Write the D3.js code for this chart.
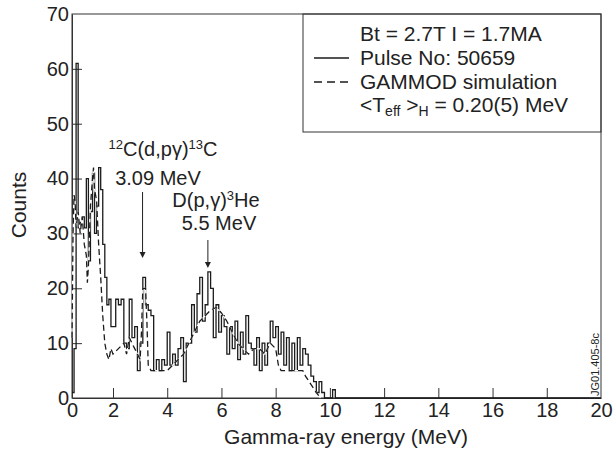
<!DOCTYPE html>
<html>
<head>
<meta charset="utf-8">
<script src="https://cdn.jsdelivr.net/npm/d3@7"></script>
<style>
  body { margin: 0; background: #fff; }
  text { font-family: "Liberation Sans", Arial, Helvetica, sans-serif; fill: #222; }
</style>
</head>
<body>
<svg id="chart" width="613" height="450"></svg>
<script>
// Axis ticks
const xTicks = [0, 2, 4, 6, 8, 10, 12, 14, 16, 18, 20];
const yTicks = [0, 10, 20, 30, 40, 50, 60, 70];

// Measured spectrum, pulse 50659: counts per 0.1 MeV bin starting at 0 MeV
const binWidth = 0.1;
const pulseCounts = [
  1, 9, 61, 31, 32, 33, 31, 40, 25, 34,
  41, 30, 35, 42, 38, 28, 22, 17, 18, 13,
  13, 18, 17, 18, 10, 9, 18, 11, 13, 5,
  10, 22, 17, 16, 15, 5, 7, 5, 7, 6,
  12, 6, 8, 6, 9, 11, 3, 10, 10, 17,
  12, 19, 22, 14, 17, 23, 20, 11, 17, 12,
  15, 13, 8, 13, 9, 14, 7, 12, 8, 15,
  10, 9, 6, 11, 5, 10, 6, 10, 14, 11,
  13, 8, 12, 6, 11, 5, 10, 5, 11, 6,
  9, 8, 6, 4, 3, 1, 3, 1, 0, 0,
  0, 1.5, 0
];

// GAMMOD simulation curve
const simEnergy = [0.0, 0.05, 0.1, 0.15, 0.2, 0.3, 0.4, 0.5, 0.6, 0.7, 0.75, 0.8, 0.9, 1.0, 1.05, 1.1, 1.2, 1.3, 1.4, 1.5,
  1.6, 1.7, 1.8, 1.9, 2.0, 2.2, 2.4, 2.5, 2.6, 2.8, 2.9, 3.0, 3.05, 3.1, 3.2, 3.25, 3.3, 3.4, 3.6, 3.8,
  4.0, 4.2, 4.4, 4.6, 4.8, 5.0, 5.2, 5.4, 5.6, 5.8, 6.0, 6.2, 6.4, 6.6, 6.8, 7.0, 7.2, 7.4, 7.6, 7.8,
  8.0, 8.1, 8.2, 8.6, 9.0, 9.1, 9.3, 9.5, 9.65];
const simCounts = [11, 30, 37, 36, 31, 34, 30, 33, 28, 26, 21, 24, 35, 40, 42, 38, 36, 28, 22, 15,
  10, 8, 7, 9, 8, 9, 10, 8, 11, 9, 8, 7, 12, 20, 20, 14, 6, 5, 5, 5,
  5, 6, 7, 8, 10, 12, 14, 15, 16, 16.5, 15.5, 14, 12, 10, 9, 8, 9, 9, 8, 10,
  9, 6, 5, 5, 5, 4, 2.5, 1, 0];

// Legend and annotation texts
const legendLines = ["Bt = 2.7T I = 1.7MA", "Pulse No: 50659", "GAMMOD simulation"];
const peakLabels = [
  { energy: 3.09, iso1: "12", main1: "C(d,p\u03B3)", iso2: "13", main2: "C", energyText: "3.09 MeV" },
  { energy: 5.5, iso1: "", main1: "D(p,\u03B3)", iso2: "3", main2: "He", energyText: "5.5 MeV" }
];

const svg = d3.select("#chart");
const plotLeft = 72, plotRight = 601, plotTop = 14, plotBottom = 398;

// The energy axis is stretched beyond 2 MeV relative to the first segment
const x = d3.scaleLinear().domain([0, 2, 20]).range([plotLeft, 113, plotRight]);
const y = d3.scaleLinear().domain([0, 70]).range([plotBottom, plotTop]);

// Frame
svg.append("rect")
  .attr("x", plotLeft).attr("y", plotTop)
  .attr("width", plotRight - plotLeft).attr("height", plotBottom - plotTop)
  .attr("fill", "none").attr("stroke", "#333").attr("stroke-width", 1);

// Axes with inward ticks
const xAxis = svg.append("g").attr("transform", `translate(0,${plotBottom})`)
  .call(d3.axisBottom(x).tickValues(xTicks).tickSizeInner(-10).tickSizeOuter(0).tickPadding(5));
const yAxis = svg.append("g").attr("transform", `translate(${plotLeft},0)`)
  .call(d3.axisLeft(y).tickValues(yTicks).tickSizeInner(-10).tickSizeOuter(0).tickPadding(3));
[xAxis, yAxis].forEach(g => {
  g.select(".domain").attr("stroke", "#333");
  g.selectAll(".tick line").attr("stroke", "#333");
  g.selectAll(".tick text").attr("font-size", 20).attr("fill", "#222")
    .style("font-family", '"Liberation Sans", Arial, sans-serif');
});
xAxis.selectAll(".tick").filter(d => d === 0 || d === 20).select("line").remove();
yAxis.selectAll(".tick").filter(d => d === 0 || d === 70).select("line").remove();

// Axis titles
svg.append("text")
  .attr("transform", "translate(26,205) rotate(-90)")
  .attr("text-anchor", "middle").attr("font-size", 21).text("Counts");
svg.append("text")
  .attr("x", 346).attr("y", 444)
  .attr("text-anchor", "middle").attr("font-size", 21).text("Gamma-ray energy (MeV)");

// Measured histogram drawn as steps, continuing at zero to the end of the axis
const steps = pulseCounts.map((c, i) => [i * binWidth, c]);
steps.push([pulseCounts.length * binWidth, 0], [20, 0]);
const stepLine = d3.line().x(d => x(d[0])).y(d => y(d[1])).curve(d3.curveStepAfter);
svg.append("path").datum(steps)
  .attr("d", stepLine)
  .attr("fill", "none").attr("stroke", "#1b1b1b").attr("stroke-width", 1.3);

// Simulation: white under-stroke gives the dash gaps, black dashes on top
const simPts = simEnergy.map((e, i) => [e, simCounts[i]]);
const simLine = d3.line().x(d => x(d[0])).y(d => y(d[1]));
svg.append("path").datum(simPts).attr("d", simLine)
  .attr("fill", "none").attr("stroke", "#fff").attr("stroke-width", 1.2);
svg.append("path").datum(simPts).attr("d", simLine)
  .attr("fill", "none").attr("stroke", "#1b1b1b").attr("stroke-width", 1.3)
  .attr("stroke-dasharray", "6,3.5");

// Legend box
svg.append("rect")
  .attr("x", 303).attr("y", plotTop)
  .attr("width", plotRight - 303).attr("height", 118)
  .attr("fill", "none").attr("stroke", "#333").attr("stroke-width", 1);

const legendX = 360;
const legendY = [41, 65, 89, 112];
legendLines.forEach((t, i) => {
  svg.append("text").attr("x", legendX).attr("y", legendY[i]).attr("font-size", 21).text(t);
});
svg.append("line")
  .attr("x1", 314).attr("x2", 349).attr("y1", legendY[1] - 7).attr("y2", legendY[1] - 7)
  .attr("stroke", "#1b1b1b").attr("stroke-width", 1.3);
svg.append("line")
  .attr("x1", 314).attr("x2", 349).attr("y1", legendY[2] - 7).attr("y2", legendY[2] - 7)
  .attr("stroke", "#1b1b1b").attr("stroke-width", 1.3).attr("stroke-dasharray", "8,5");

// <T_eff >_H = 0.20(5) MeV
const teff = svg.append("text").attr("x", legendX).attr("y", legendY[3]).attr("font-size", 21);
teff.append("tspan").text("<T");
teff.append("tspan").attr("font-size", 14).attr("dy", 4).text("eff");
teff.append("tspan").attr("dy", -4).text(" >");
teff.append("tspan").attr("font-size", 14).attr("dy", 4).text("H");
teff.append("tspan").attr("dy", -4).text(" = 0.20(5) MeV");

// Peak annotations with arrows
const arrowGeom = [
  { tx: 163, ty1: 156, tx2: 158, ty2: 185, ay1: 192, ay2: 258 },
  { tx: 216, ty1: 207, tx2: 219, ty2: 230, ay1: 240, ay2: 268 }
];
peakLabels.forEach((p, i) => {
  const g = arrowGeom[i];
  const t = svg.append("text").attr("x", g.tx).attr("y", g.ty1)
    .attr("text-anchor", "middle").attr("font-size", 20);
  if (p.iso1) t.append("tspan").attr("font-size", 13).attr("dy", -7).text(p.iso1);
  t.append("tspan").attr("dy", p.iso1 ? 7 : 0).text(p.main1);
  t.append("tspan").attr("font-size", 13).attr("dy", -7).text(p.iso2);
  t.append("tspan").attr("dy", 7).text(p.main2);
  svg.append("text").attr("x", g.tx2).attr("y", g.ty2)
    .attr("text-anchor", "middle").attr("font-size", 20).text(p.energyText);
  const ax = x(p.energy);
  svg.append("line").attr("x1", ax).attr("x2", ax).attr("y1", g.ay1).attr("y2", g.ay2 - 5)
    .attr("stroke", "#222").attr("stroke-width", 1);
  svg.append("path")
    .attr("d", `M${ax - 3},${g.ay2 - 6}L${ax + 3},${g.ay2 - 6}L${ax},${g.ay2}Z`)
    .attr("fill", "#222");
});

// Figure reference code along the right edge
svg.append("text")
  .attr("transform", "translate(599,396) rotate(-90)")
  .attr("font-size", 11).text("JG01.405-8c");
</script>
</body>
</html>
